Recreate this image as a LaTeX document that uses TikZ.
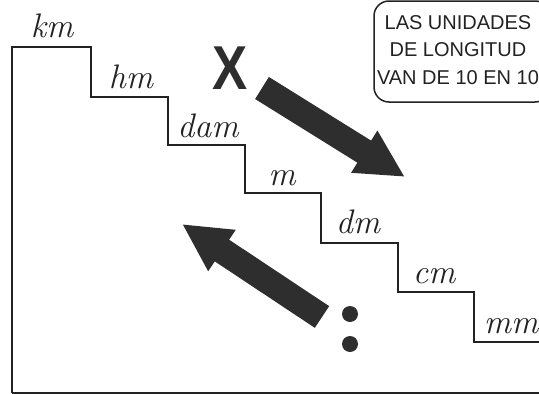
\documentclass[tikz,border=0pt]{standalone}
\usepackage{fontspec}
\setsansfont{Liberation Sans}
\usetikzlibrary{arrows.meta}
\definecolor{ink}{HTML}{222222}
\definecolor{arrowgray}{HTML}{2E2E2E}
\begin{document}
\begin{tikzpicture}[x=1pt,y=-1pt,
  lab/.style={font=\fontsize{34}{34}\selectfont\itshape, text=ink, anchor=base, inner sep=0pt},
  stair/.style={line width=2pt, draw=ink, line join=miter},
  bigarrow/.style={line width=26pt, draw=arrowgray, -{Triangle[length=48pt,width=46pt]}},
  dot/.style={circle, fill=arrowgray, minimum size=16pt, inner sep=0pt},
  note/.style={font=\sffamily\fontsize{20}{27.5}\selectfont, text=ink, align=center, inner sep=0pt}
]
\useasboundingbox (0,0) rectangle (539,394);
% staircase
\draw[stair] (12,393) -- (12,47) -- (91,47) -- (91,97) -- (168,97) -- (168,145)
  -- (245,145) -- (245,193) -- (321,193) -- (321,243) -- (398,243) -- (398,292)
  -- (474,292) -- (474,342) -- (545,342);
\draw[stair] (12,393) -- (545,393);
% labels
\node[lab] (km) at (52,37) {km};
\node[lab] (hm) at (131,88) {hm};
\node[lab] (dam) at (208,137) {dam};
\node[lab] (m) at (282,185) {m};
\node[lab] (dm) at (358,233) {dm};
\node[lab] (cm) at (434,283) {cm};
\node[lab] (mm) at (511,333) {mm};
% note box
\draw[line width=1.5pt, draw=ink, rounded corners=15pt] (374,1) rectangle (550,102);
\node[note] (note) at (458,50) {LAS UNIDADES\\DE LONGITUD\\VAN DE 10 EN 10};
% X
\node[font=\sffamily\bfseries\fontsize{62}{62}\selectfont, text=arrowgray, xscale=0.85, inner sep=0pt] (x) at (230,68) {X};
% arrows
\coordinate (a1s) at (262,88);
\coordinate (a1e) at (405,177);
\coordinate (a2s) at (322,317);
\coordinate (a2e) at (182,224);
\draw[bigarrow] (a1s) -- (a1e);
\draw[bigarrow] (a2s) -- (a2e);
% colon
\node[dot] (d1) at (350,314) {};
\node[dot] (d2) at (350,344) {};
\end{tikzpicture}
\end{document}
